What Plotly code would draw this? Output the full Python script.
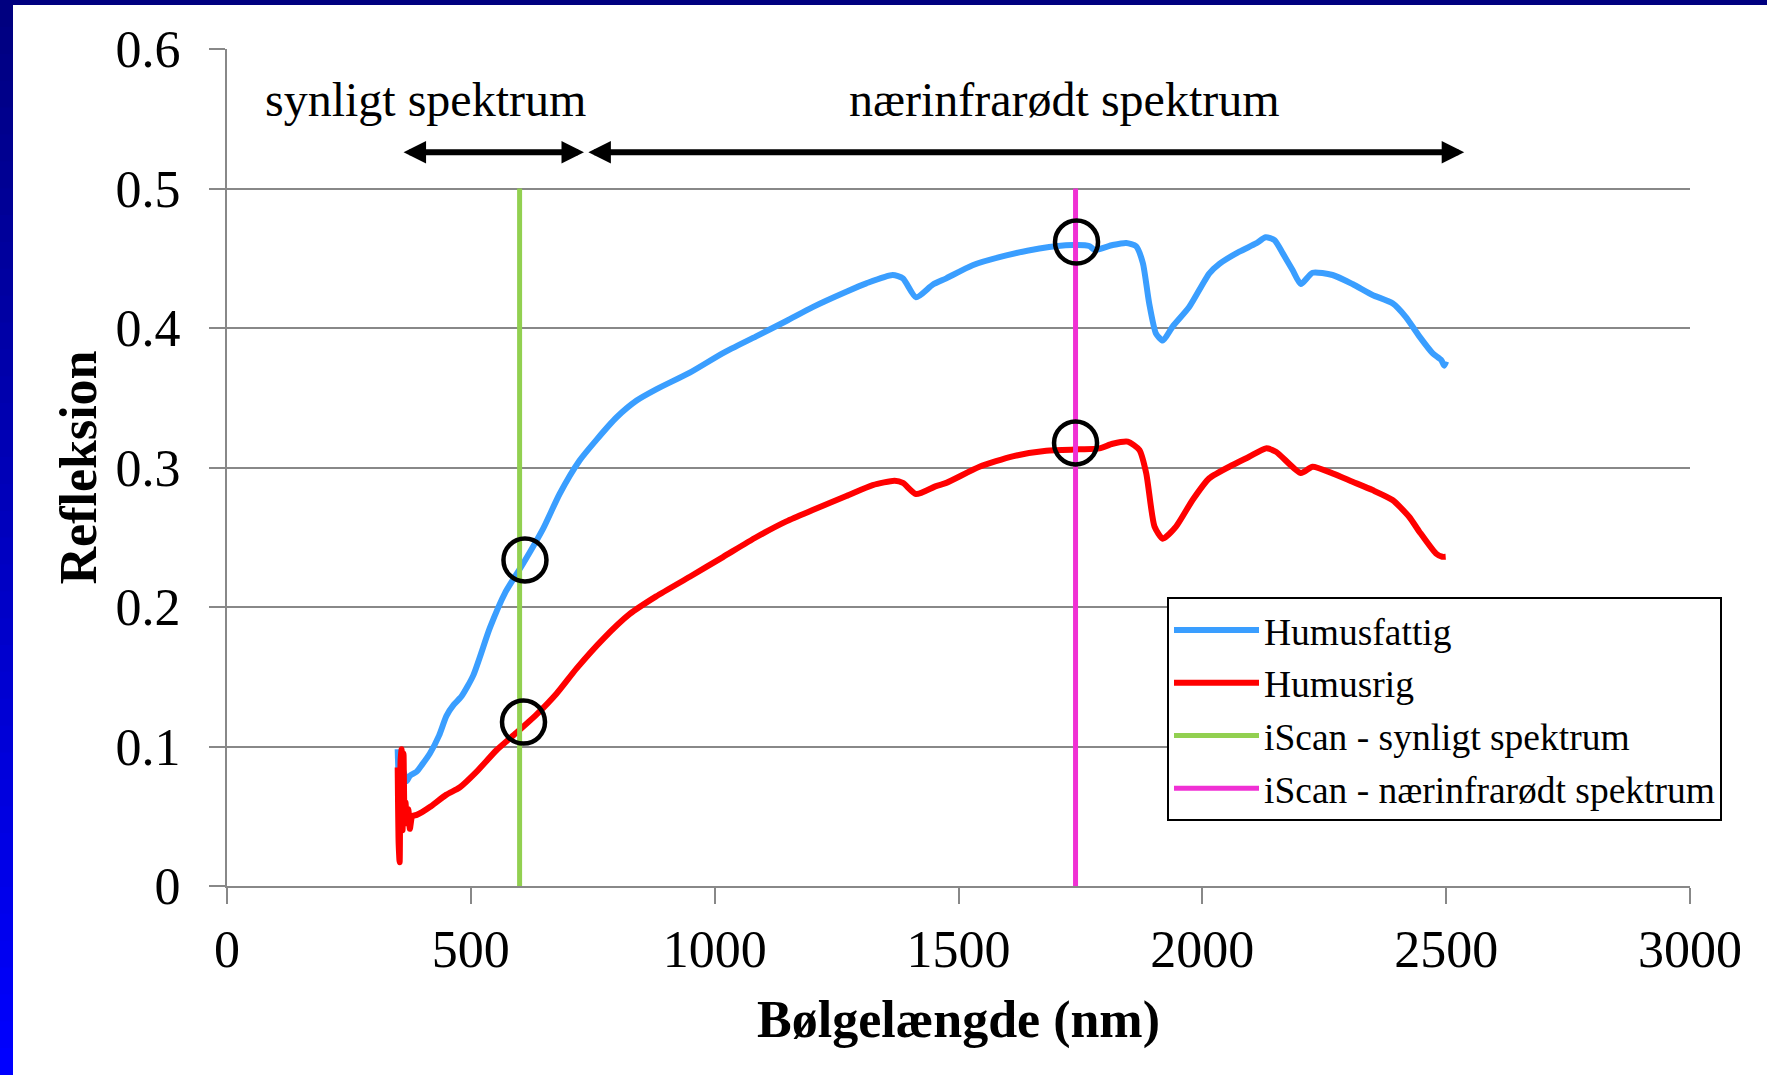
import plotly.graph_objects as go

# Reflectance spectra of two soils (wavelength in nm, reflectance 0-1)
wl_fattig = [350, 352, 355, 358, 362, 368, 375, 389, 400, 416, 435, 450, 465, 481, 505,
             539, 570, 607, 648, 682, 723, 758, 799, 840, 880, 949, 1017, 1085, 1147, 1201,
             1270, 1311, 1365, 1386, 1413, 1447, 1475, 1529, 1598, 1666, 1734, 1768, 1779,
             1816, 1844, 1864, 1878, 1891, 1905, 1919, 1939, 1973, 2014, 2035, 2076, 2110,
             2130, 2148, 2165, 2185, 2202, 2226, 2267, 2308, 2349, 2390, 2417, 2445, 2472,
             2490, 2496, 2500]
refl_fattig = [0.098, 0.080, 0.092, 0.074, 0.082, 0.075, 0.079, 0.082, 0.087, 0.095, 0.108,
               0.122, 0.130, 0.136, 0.151, 0.185, 0.210, 0.231, 0.256, 0.281, 0.305, 0.320,
               0.336, 0.348, 0.356, 0.368, 0.382, 0.394, 0.405, 0.415, 0.426, 0.432, 0.438,
               0.4356, 0.422, 0.431, 0.4356, 0.445, 0.452, 0.457, 0.4595, 0.4588, 0.456,
               0.4595, 0.461, 0.4587, 0.4466, 0.4177, 0.396, 0.391, 0.401, 0.415, 0.439,
               0.446, 0.4547, 0.4606, 0.465, 0.463, 0.4535, 0.4416, 0.4315, 0.4396, 0.438,
               0.4315, 0.4237, 0.4177, 0.408, 0.394, 0.382, 0.377, 0.373, 0.376]

wl_rig = [350, 352, 354, 356, 358, 360, 362, 364, 366, 369, 372, 375, 380, 389, 400, 416,
          450, 477, 512, 553, 594, 635, 676, 717, 771, 826, 880, 949, 1017, 1085, 1147, 1201,
          1270, 1324, 1369, 1386, 1413, 1454, 1475, 1543, 1611, 1680, 1748, 1789, 1816, 1847,
          1871, 1885, 1902, 1919, 1946, 1980, 2014, 2062, 2096, 2130, 2151, 2202, 2226, 2267,
          2308, 2349, 2390, 2424, 2445, 2479, 2492, 2499]
refl_rig = [0.085, 0.030, 0.017, 0.090, 0.098, 0.040, 0.095, 0.050, 0.060, 0.045, 0.055,
            0.041, 0.050, 0.051, 0.053, 0.0566, 0.0655, 0.0706, 0.082, 0.0975, 0.110, 0.123,
            0.138, 0.156, 0.177, 0.195, 0.2076, 0.2217, 0.2358, 0.250, 0.2614, 0.2695, 0.2796,
            0.2874, 0.2905, 0.289, 0.281, 0.2867, 0.289, 0.3005, 0.308, 0.312, 0.313, 0.3137,
            0.317, 0.3185, 0.3125, 0.2958, 0.2576, 0.249, 0.2576, 0.2767, 0.2922, 0.3018,
            0.3077, 0.3137, 0.3113, 0.296, 0.3005, 0.2958, 0.2898, 0.2838, 0.2767, 0.2647,
            0.254, 0.2384, 0.236, 0.236]

# iScan measuring wavelengths
iscan_vis_wl = 600
iscan_nir_wl = 1740
iscan_top = 0.5

# Points where the iScan wavelengths meet the spectra
circle_wl = [611, 608, 1742, 1740]
circle_refl = [0.2337, 0.1175, 0.4616, 0.3176]

# Spectral ranges shown with arrows
range_labels = ["synligt spektrum", "nærinfrarødt spektrum"]
range_label_x = [408, 1717]
range_starts = [359, 738]
range_ends = [732, 2537]
range_y = 0.526
label_y = 0.564

FONT = "Liberation Serif, Times New Roman, serif"

fig = go.Figure()

fig.add_trace(go.Scatter(x=wl_fattig, y=refl_fattig, mode="lines", name="Humusfattig",
                         legendgroup="a",
                         line=dict(color="#3A9EFF", width=6, shape="spline", smoothing=0.6)))
fig.add_trace(go.Scatter(x=wl_rig, y=refl_rig, mode="lines", name="Humusrig",
                         legendgroup="b",
                         line=dict(color="#FF0000", width=6, shape="spline", smoothing=0.6)))
fig.add_trace(go.Scatter(x=[iscan_vis_wl, iscan_vis_wl], y=[0, iscan_top], mode="lines",
                         name="iScan - synligt spektrum", legendgroup="c",
                         line=dict(color="#92D050", width=5)))
fig.add_trace(go.Scatter(x=[iscan_nir_wl, iscan_nir_wl], y=[0, iscan_top], mode="lines",
                         name="iScan - nærinfrarødt spektrum", legendgroup="d",
                         line=dict(color="#F030D4", width=5)))
fig.add_trace(go.Scatter(x=circle_wl, y=circle_refl, mode="markers", showlegend=False,
                         marker=dict(symbol="circle-open", size=43, color="black",
                                     line=dict(width=4.5, color="black"))))

# Range labels and double-headed arrows
for lbl, lx in zip(range_labels, range_label_x):
    fig.add_annotation(x=lx, y=label_y, xref="x", yref="y", text=lbl, showarrow=False,
                       font=dict(family=FONT, size=48, color="black"))
for x0, x1 in zip(range_starts, range_ends):
    fig.add_annotation(x=x1, y=range_y, ax=x0, ay=range_y, xref="x", yref="y",
                       axref="x", ayref="y", text="", showarrow=True,
                       arrowhead=2, arrowside="end+start", arrowsize=0.75,
                       arrowwidth=6, arrowcolor="black")

# Slide frame: navy bar on top, blue gradient bar on the left
W, H = 1767, 1075
L, R, T, B = 227, 77, 49, 189
pw, ph = W - L - R, H - T - B


def px_x(p):
    return (p - L) / pw


def px_y(p):
    return (H - B - p) / ph


shapes = []
shapes.append(dict(type="rect", xref="paper", yref="paper", x0=px_x(0), x1=px_x(W),
                   y0=px_y(5), y1=px_y(0), fillcolor="#000080", line=dict(width=0),
                   layer="above"))
bands = 40
for i in range(bands):
    t = i / (bands - 1)
    c = f"rgb(0,0,{int(128 + 127 * t)})"
    y_top = i * H / bands
    y_bot = (i + 1) * H / bands + 1
    shapes.append(dict(type="rect", xref="paper", yref="paper", x0=px_x(0), x1=px_x(13),
                       y0=px_y(y_bot), y1=px_y(y_top), fillcolor=c, line=dict(width=0),
                       layer="above"))

fig.update_layout(
    width=W, height=H,
    margin=dict(l=L, r=R, t=T, b=B, autoexpand=False),
    paper_bgcolor="white", plot_bgcolor="white",
    font=dict(family=FONT, color="black", size=52),
    shapes=shapes,
    showlegend=True,
    legend=dict(x=px_x(1167), y=px_y(597), xanchor="left", yanchor="top",
                bgcolor="white", bordercolor="black", borderwidth=2,
                font=dict(family=FONT, size=37.5, color="black"),
                traceorder="grouped", tracegroupgap=1, itemwidth=85),
    xaxis=dict(range=[0, 3000], tickvals=[0, 500, 1000, 1500, 2000, 2500, 3000],
               showgrid=False, zeroline=False, showline=True, linecolor="#888888",
               linewidth=2, ticks="outside", ticklen=16, tickwidth=2, tickcolor="#888888",
               tickfont=dict(family=FONT, size=52, color="black"), ticklabelstandoff=1,
               title=dict(text="<b>Bølgelængde (nm)</b>", standoff=23,
                          font=dict(family=FONT, size=52, color="black"))),
    yaxis=dict(range=[0, 0.6], tickvals=[0, 0.1, 0.2, 0.3, 0.4, 0.5, 0.6],
               ticktext=["0", "0.1", "0.2", "0.3", "0.4", "0.5", "0.6"],
               showgrid=True, gridcolor="#888888", gridwidth=2, zeroline=False,
               showline=True, linecolor="#888888", linewidth=2, ticks="outside",
               ticklen=16, tickwidth=2, tickcolor="#888888",
               tickfont=dict(family=FONT, size=52, color="black"), ticklabelstandoff=18,
               title=dict(text="<b>Refleksion</b>", standoff=2,
                          font=dict(family=FONT, size=52, color="black"))),
)

fig.write_html("out.html")
